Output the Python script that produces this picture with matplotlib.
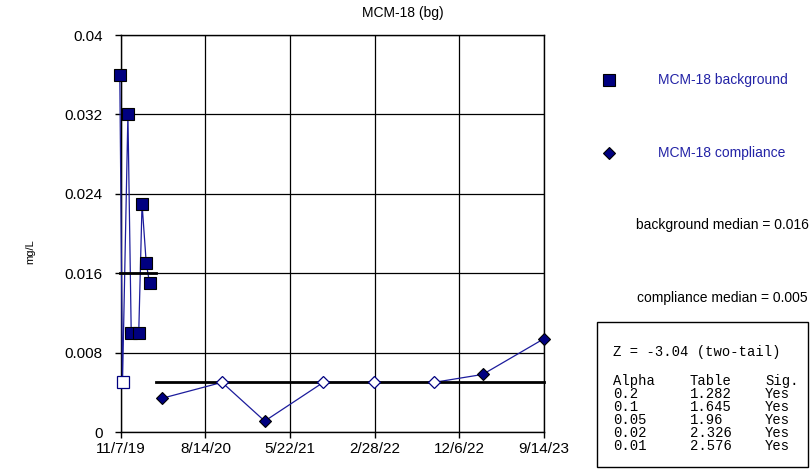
import matplotlib
matplotlib.use("Agg")
import matplotlib.pyplot as plt
import matplotlib.dates as mdates
import pandas as pd
import numpy as np

plt.rcParams['font.family'] = ['Liberation Sans', 'DejaVu Sans']

# ---- data ----
bg_dates = ["2019-11-03", "2019-11-12", "2019-11-30", "2019-12-11", "2020-01-05",
            "2020-01-16", "2020-01-30", "2020-02-10"]
bg_values = [0.036, 0.005, 0.032, 0.010, 0.010, 0.023, 0.017, 0.015]
bg_nondetect = [False, True, False, False, False, False, False, False]

comp_dates = ["2020-03-23", "2020-10-08", "2021-02-27", "2021-09-10", "2022-02-27",
              "2022-09-13", "2023-02-22", "2023-09-14"]
comp_values = [0.0034, 0.005, 0.0011, 0.005, 0.005, 0.005, 0.0058, 0.0094]
comp_nondetect = [False, True, False, True, True, True, False, False]

bg_median = 0.016
comp_median = 0.005

x_ticks = ["2019-11-07", "2020-08-14", "2021-05-22", "2022-02-28", "2022-12-06", "2023-09-14"]
x_tick_labels = ["11/7/19", "8/14/20", "5/22/21", "2/28/22", "12/6/22", "9/14/23"]
y_ticks = [0, 0.008, 0.016, 0.024, 0.032, 0.04]
y_tick_labels = ["0", "0.008", "0.016", "0.024", "0.032", "0.04"]

table_rows = [("0.2", "1.282", "Yes"), ("0.1", "1.645", "Yes"), ("0.05", "1.96", "Yes"),
              ("0.02", "2.326", "Yes"), ("0.01", "2.576", "Yes")]
z_text = "Z = -3.04 (two-tail)"

# ---- figure ----
W, H = 810, 473
fig = plt.figure(figsize=(W / 100, H / 100), dpi=100)
ax = fig.add_axes([121 / W, 1 - 432 / H, (544 - 121) / W, (432 - 35) / H])

NAVY = '#000080'
LINE = '#1c1c9c'

bx = mdates.date2num(pd.to_datetime(bg_dates))
cx = mdates.date2num(pd.to_datetime(comp_dates))
bv = np.array(bg_values)
cv = np.array(comp_values)
bnd = np.array(bg_nondetect)
cnd = np.array(comp_nondetect)

ax.plot(bx, bv, color=LINE, lw=0.9, zorder=3, clip_on=False)
ax.plot(cx, cv, color=LINE, lw=0.9, zorder=3, clip_on=False)

ax.plot(bx[~bnd], bv[~bnd], ls='none', marker='s', ms=8.5, mfc=NAVY, mec='black', mew=0.8, zorder=5, clip_on=False)
ax.plot(bx[bnd], bv[bnd], ls='none', marker='s', ms=8.5, mfc='white', mec=NAVY, mew=0.9, zorder=5, clip_on=False)
ax.plot(cx[~cnd], cv[~cnd], ls='none', marker='D', ms=6.5, mfc=NAVY, mec='black', mew=0.8, zorder=5, clip_on=False)
ax.plot(cx[cnd], cv[cnd], ls='none', marker='D', ms=6.5, mfc='white', mec=NAVY, mew=0.9, zorder=5, clip_on=False)

mid = (bx[-1] + cx[0]) / 2
ax.plot([bx[0], mid], [bg_median, bg_median], color='black', lw=2, zorder=4, clip_on=False)
ax.plot([mid, cx[-1]], [comp_median, comp_median], color='black', lw=2, zorder=4, clip_on=False)

xt = mdates.date2num(pd.to_datetime(x_ticks))
ax.set_xlim(xt[0], xt[-1])
ax.set_ylim(0, 0.04)
ax.set_xticks(xt)
ax.set_xticklabels(x_tick_labels)
ax.set_yticks(y_ticks)
ax.set_yticklabels(y_tick_labels)
ax.tick_params(labelsize=11, length=4, width=1, direction='out', color='black')
ax.tick_params(axis='y', pad=9)
ax.tick_params(axis='x', pad=3)
ax.grid(True, color='black', lw=0.9)
ax.set_axisbelow(True)
for s in ax.spines.values():
    s.set_color('black')
    s.set_linewidth(1.0)

fig.text(403 / W, 1 - 13 / H, "MCM-18 (bg)", ha='center', va='center', fontsize=10)
fig.text(30 / W, 1 - 252 / H, "mg/L", rotation=90, ha='center', va='center', fontsize=8)

# legend-like annotations
leg_color = '#2323a6'
fig.lines.append(plt.Line2D([609 / W], [1 - 80 / H], transform=fig.transFigure, ls='none', marker='s',
                            ms=8, mfc=NAVY, mec='black', mew=0.8))
fig.lines.append(plt.Line2D([609 / W], [1 - 153 / H], transform=fig.transFigure, ls='none', marker='D',
                            ms=6.5, mfc=NAVY, mec='black', mew=0.8))
fig.text(658 / W, 1 - 80 / H, "MCM-18 background", ha='left', va='center', fontsize=10, color=leg_color)
fig.text(658 / W, 1 - 153 / H, "MCM-18 compliance", ha='left', va='center', fontsize=10, color=leg_color)
fig.text(636 / W, 1 - 225 / H, "background median = %g" % bg_median, ha='left', va='center', fontsize=10)
fig.text(637 / W, 1 - 298 / H, "compliance median = %g" % comp_median, ha='left', va='center', fontsize=10)

# stats box
box = plt.Rectangle((597 / W, 1 - 467 / H), (808 - 597) / W, (467 - 322) / H, transform=fig.transFigure,
                    fill=False, ec='black', lw=1)
fig.patches.append(box)
mono = ['Liberation Mono', 'DejaVu Sans Mono']
fig.text(613 / W, 1 - 352 / H, z_text, ha='left', va='center', fontsize=10, family=mono)
cols = [613, 690, 765]
for c, h in zip(cols, ["Alpha", "Table", "Sig."]):
    fig.text(c / W, 1 - 381 / H, h, ha='left', va='center', fontsize=10, family=mono)
for i, row in enumerate(table_rows):
    y = 394 + 13 * i
    for c, t in zip(cols, row):
        fig.text(c / W, 1 - y / H, t, ha='left', va='center', fontsize=10, family=mono)

fig.savefig("out.png", dpi=100)
